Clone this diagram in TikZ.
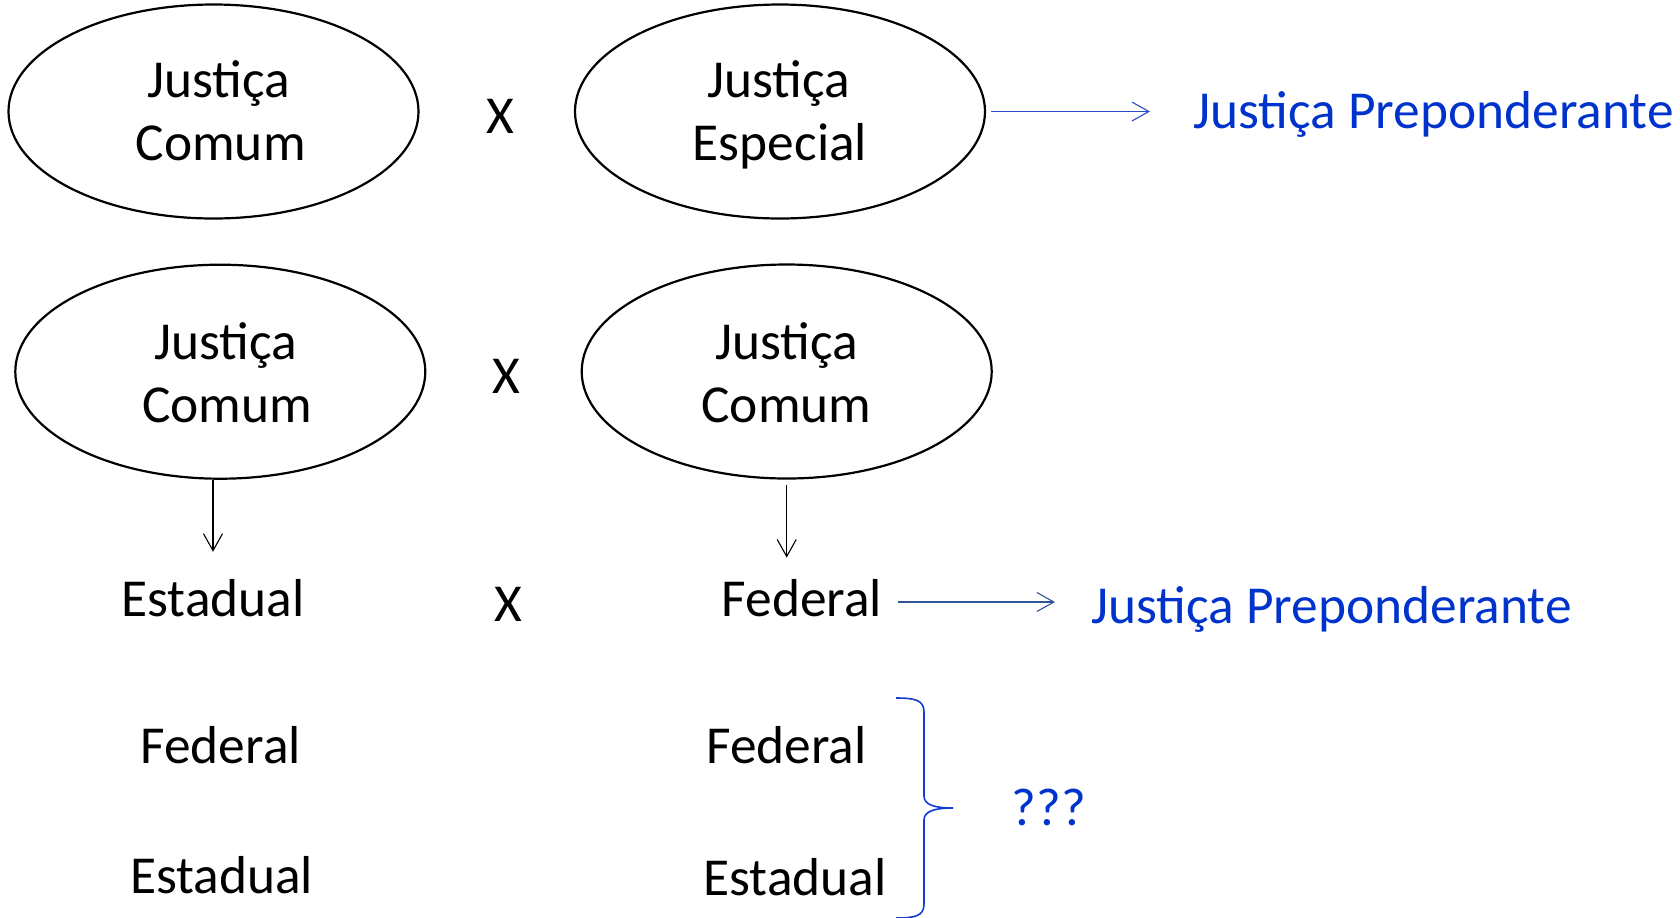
\documentclass[tikz,border=0pt]{standalone}
\usepackage{fontspec}
\setmainfont{Carlito}
\usetikzlibrary{shapes.geometric,arrows.meta,calc}
\definecolor{jblue}{RGB}{0,51,204}
\definecolor{arrowA}{RGB}{45,75,200}
\definecolor{arrowB}{RGB}{47,85,151}
\definecolor{braceblue}{RGB}{20,60,210}
\begin{document}
\begin{tikzpicture}[x=0.5pt,y=-0.5pt,
  oval/.style={draw=black,line width=1.1pt,shape=ellipse,inner sep=0pt,minimum width=205pt,minimum height=107pt},
  txt/.style={inner sep=0pt,anchor=base,font=\fontsize{26.7}{31}\selectfont},
  bluetxt/.style={txt,text=jblue},
  thinarrow/.style={line width=0.55pt,-{Straight Barb[length=8.5pt,width=9.5pt]}}
]
\useasboundingbox (0,0) rectangle (1680,917);
% ellipses
\node[oval] (e1) at (213.5,111.5) {};
\node[oval] (e2) at (780,111.5) {};
\node[oval] (e3) at (220.3,371.7) {};
\node[oval] (e4) at (786.7,371.5) {};
% ellipse texts
\node[txt] (e1a) at (219,97) {Justiça};
\node[txt] (e1b) at (220.7,160) {Comum};
\node[txt] (e2a) at (778.6,97) {Justiça};
\node[txt] (e2b) at (780,160) {Especial};
\node[txt] (e3a) at (226,359) {Justiça};
\node[txt] (e3b) at (227,422) {Comum};
\node[txt] (e4a) at (786.5,359) {Justiça};
\node[txt] (e4b) at (786.5,422) {Comum};
% X signs
\node[txt] (x1) at (500,133) {X};
\node[txt] (x2) at (506.8,393) {X};
\node[txt] (x3) at (508,621) {X};
% row 3
\node[txt] (est1) at (213,616) {Estadual};
\node[txt] (fed1) at (802,616) {Federal};
% rows 4-5
\node[txt] (fed2) at (220.7,763) {Federal};
\node[txt] (fed3) at (786.5,763) {Federal};
\node[txt] (est2) at (221.7,893) {Estadual};
\node[txt] (est3) at (795,895) {Estadual};
% blue texts
\node[bluetxt,anchor=base west] (jp1) at (1193,128) {Justiça Preponderante};
\node[bluetxt,anchor=base west] (jp2) at (1091,623) {Justiça Preponderante};
\node[bluetxt] (q) at (1049,825) {???};
% arrows
\draw[thinarrow,arrowA,shorten <=2.5pt,shorten >=21.5pt] (e2.east) -- (e2.east -| jp1.west);
\draw[thinarrow,black] (e3.south -| est1) -- ($(e3.south -| est1)+(0,72)$);
\draw[thinarrow,black,shorten <=2.5pt] (e4.south) -- ($(e4.south)+(0,78)$);
\draw[thinarrow,arrowB] ($(fed1.base east)+(15,-14)$) -- ($(jp2.base west)+(-36,-21)$);
% brace
\draw[braceblue,line width=0.8pt] (896,698) .. controls (915,698) and (924,700) .. (924,712)
  -- (924,796) .. controls (924,805) and (935,808) .. (953,808)
  .. controls (935,808) and (924,811) .. (924,820)
  -- (924,904) .. controls (924,916) and (915,918) .. (896,918);
\end{tikzpicture}
\end{document}
